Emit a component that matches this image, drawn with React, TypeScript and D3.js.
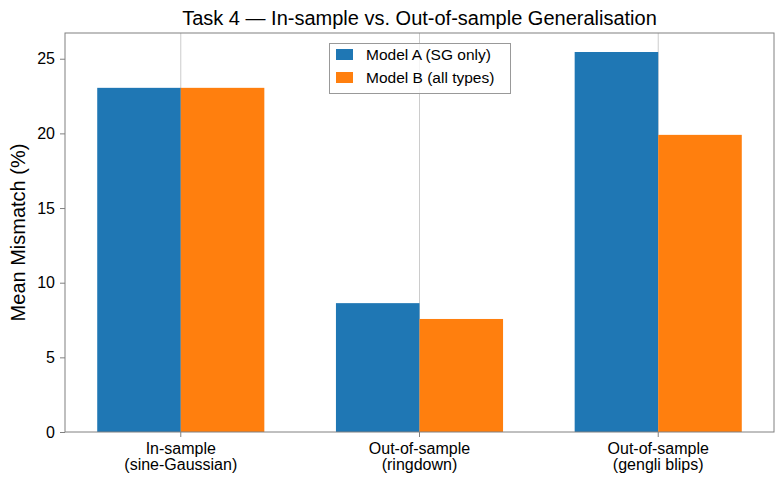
import React, { useEffect, useRef } from 'react';
import * as d3 from 'd3';

// Categories (two-line labels) and per-model mean mismatch, in percent
const categories = ['In-sample\n(sine-Gaussian)', 'Out-of-sample\n(ringdown)', 'Out-of-sample\n(gengli blips)'];
const modelA = [23.05, 8.63, 25.45];
const modelB = [23.05, 7.57, 19.9];
const seriesNames = ['Model A (SG only)', 'Model B (all types)'];
const seriesColors = ['#1f77b4', '#ff7f0e'];
const yTicks = [0, 5, 10, 15, 20, 25];

const FONT = '"Liberation Sans", Arial, Helvetica, sans-serif';

const App = () => {
  const ref = useRef<SVGSVGElement | null>(null);

  useEffect(() => {
    const svg = d3.select(ref.current);
    svg.selectAll('*').remove();

    const width = 784;
    const height = 484;
    const margin = { top: 33, right: 10, bottom: 52, left: 65 };
    const innerWidth = width - margin.left - margin.right;
    const innerHeight = height - margin.top - margin.bottom;

    const barWidth = 0.35;
    const maxVal = d3.max([...modelA, ...modelB]) as number;

    // matplotlib-style auto limits: 5% margin around the bars
    const xMin = -barWidth;
    const xMax = categories.length - 1 + barWidth;
    const pad = (xMax - xMin) * 0.05;
    const x = d3.scaleLinear().domain([xMin - pad, xMax + pad]).range([0, innerWidth]);
    const y = d3.scaleLinear().domain([0, maxVal * 1.05]).range([innerHeight, 0]);

    const g = svg.append('g').attr('transform', `translate(${margin.left},${margin.top})`);

    // Vertical grid at category centres
    g.selectAll('.grid')
      .data(categories)
      .enter()
      .append('line')
      .attr('x1', (_, i) => x(i))
      .attr('x2', (_, i) => x(i))
      .attr('y1', 0)
      .attr('y2', innerHeight)
      .attr('stroke', '#cccccc')
      .attr('stroke-width', 1);

    // Bars
    const series = [modelA, modelB];
    series.forEach((vals, s) => {
      g.selectAll(`.bar-${s}`)
        .data(vals)
        .enter()
        .append('rect')
        .attr('x', (_, i) => x(i + (s === 0 ? -barWidth : 0)))
        .attr('width', x(barWidth) - x(0))
        .attr('y', d => y(d))
        .attr('height', d => innerHeight - y(d))
        .attr('fill', seriesColors[s]);
    });

    // Frame
    g.append('rect')
      .attr('x', 0)
      .attr('y', 0)
      .attr('width', innerWidth)
      .attr('height', innerHeight)
      .attr('fill', 'none')
      .attr('stroke', '#808080')
      .attr('stroke-width', 1);

    // Y axis
    const yAxis = g.append('g')
      .call(d3.axisLeft(y).tickValues(yTicks).tickSize(5).tickPadding(5).tickFormat(d3.format('d')));
    yAxis.select('.domain').remove();
    yAxis.selectAll('line').attr('stroke', '#808080');
    yAxis.selectAll('text')
      .attr('font-family', FONT)
      .attr('font-size', '16px')
      .attr('fill', '#000');

    // X axis ticks and two-line labels
    const xAxis = g.append('g').attr('transform', `translate(0,${innerHeight})`);
    categories.forEach((c, i) => {
      xAxis.append('line')
        .attr('x1', x(i))
        .attr('x2', x(i))
        .attr('y1', 0)
        .attr('y2', 5)
        .attr('stroke', '#808080');
      const t = xAxis.append('text')
        .attr('text-anchor', 'middle')
        .attr('font-family', FONT)
        .attr('font-size', '16px')
        .attr('fill', '#000');
      c.split('\n').forEach((line, k) => {
        t.append('tspan')
          .attr('x', x(i))
          .attr('y', 22 + k * 16)
          .text(line);
      });
    });

    // Y axis label
    g.append('text')
      .attr('transform', 'rotate(-90)')
      .attr('x', -innerHeight / 2)
      .attr('y', -margin.left + 25)
      .attr('text-anchor', 'middle')
      .attr('font-family', FONT)
      .attr('font-size', '20px')
      .attr('fill', '#000')
      .text('Mean Mismatch (%)');

    // Title
    svg.append('text')
      .attr('x', margin.left + innerWidth / 2)
      .attr('y', 25)
      .attr('text-anchor', 'middle')
      .attr('font-family', FONT)
      .attr('font-size', '20px')
      .attr('fill', '#000')
      .text('Task 4 — In-sample vs. Out-of-sample Generalisation');

    // Legend
    const legend = svg.append('g').attr('transform', 'translate(329.5,43.5)');
    legend.append('rect')
      .attr('width', 181)
      .attr('height', 50)
      .attr('fill', 'rgba(255,255,255,0.8)')
      .attr('stroke', '#999999')
      .attr('stroke-width', 1);
    seriesNames.forEach((name, i) => {
      legend.append('rect')
        .attr('x', 6.5)
        .attr('y', 5.5 + i * 23)
        .attr('width', 17)
        .attr('height', 11)
        .attr('fill', seriesColors[i]);
      legend.append('text')
        .attr('x', 36.5)
        .attr('y', 16 + i * 23.5)
        .attr('font-family', FONT)
        .attr('font-size', '15.5px')
        .attr('fill', '#000')
        .text(name);
    });
  }, []);

  return (
    <svg ref={ref} width={784} height={484} style={{ display: 'block', position: 'absolute', left: 0, top: 0 }} />
  );
};

export default App;
